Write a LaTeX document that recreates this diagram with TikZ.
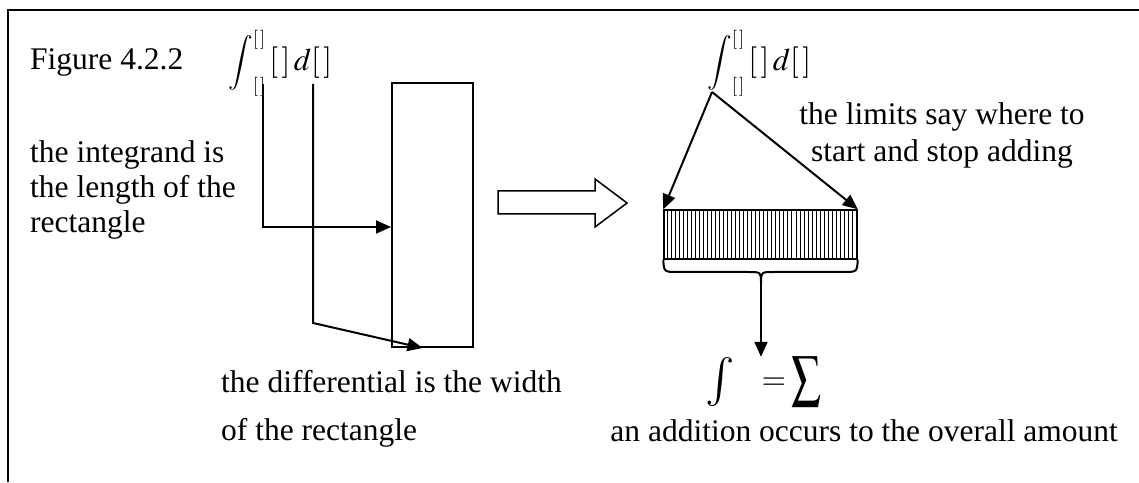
\documentclass[tikz,border=0pt]{standalone}
\usepackage{mathptmx}
\usepackage{graphicx}
\usepackage{fontspec}
\setmainfont{Liberation Serif}
\usetikzlibrary{arrows.meta,calc}
\tikzset{
  txt/.style={font=\fontsize{31.5}{35}\selectfont, inner sep=0pt},
  conn/.style={line width=2pt, -{Triangle[length=15pt,width=13pt]}},
  box/.style={draw, line width=2pt, inner sep=0pt},
}
\newcommand{\bk}{[\mkern2mu]}
\newcommand{\intexpr}{$\mathop{\vcenter{\hbox{\scalebox{0.87}{$\displaystyle\int$}}}}\nolimits_{\scriptscriptstyle\bk}^{\scriptscriptstyle\bk}\,\bk\,d\bk$}

\begin{document}
\begin{tikzpicture}[x=1pt,y=1pt]
  \useasboundingbox (0,0) rectangle (1139,482);
  % frame (open right and bottom)
  \draw[line width=2.5pt] (8,0) -- (8,472) -- (1139,472);

  % left: integral read as a rectangle
  \node[txt,anchor=base west] (title) at (30,412) {Figure 4.2.2};
  \node[txt,anchor=base west] (intA) at (228,411) {\intexpr};
  \node[box,minimum width=81pt,minimum height=264pt] (rect) at (432.5,267) {};
  \coordinate (integrand) at (263,398);
  \coordinate (differential) at (313,398);
  \draw[conn] (integrand) |- ([yshift=-12pt]rect.west);
  \draw[conn] (differential) -- ++(0,-239) -- ([xshift=-10pt]rect.south);
  \node[txt,anchor=base west,align=left] (lenlbl) at (30,249)
    {the integrand is\\the length of the\\rectangle};
  \node[txt,anchor=base west,align=left,font=\fontsize{31.5}{48}\selectfont] (widlbl) at (221,42)
    {the differential is the width\\of the rectangle};

  % hollow arrow
  \draw[line width=1.5pt] (498,291) -- (595,291) -- (595,303) -- (627,279)
    -- (595,255) -- (595,268) -- (498,268) -- cycle;

  % right: integral read as a sum
  \node[txt,anchor=base west] (intB) at (707,411) {\intexpr};
  \coordinate (limits) at (712,390);
  \node[box,line width=1.5pt,minimum width=193pt,minimum height=49pt] (strip) at (760.5,247.5) {};
  \foreach \i in {1,...,47}
    \draw[line width=0.9pt] ($(strip.south west)+(\i*193/48,0)$) -- ++(0,49);
  \draw[conn] (limits) -- (strip.north west);
  \draw[conn] (limits) -- (strip.north east);
  \node[txt,anchor=base,align=center,font=\fontsize{31.5}{37}\selectfont] (limlbl) at (942,320)
    {the limits say where to\\start and stop adding};
  % brace under the strip
  \coordinate (bracetip) at (761,199);
  \draw[line width=2pt] (strip.south west) .. controls (664,210) .. (678,210) -- (748,210)
    .. controls (761,210) .. (bracetip) .. controls (761,210) .. (774,210) -- (843,210)
    .. controls (857,210) .. (strip.south east);
  \node[txt,anchor=west] (eqn) at (705,100)
    {$\vcenter{\hbox{\resizebox*{!}{49pt}{$\int$}}}\hspace{27pt}{=}\hspace{5pt}\vcenter{\hbox{\resizebox*{30pt}{50pt}{$\sum$}}}$};
  \draw[conn] (bracetip) -- (bracetip |- eqn.north);
  \node[txt,anchor=base east] (sumlbl) at (1118,41) {an addition occurs to the overall amount};
\end{tikzpicture}
\end{document}
